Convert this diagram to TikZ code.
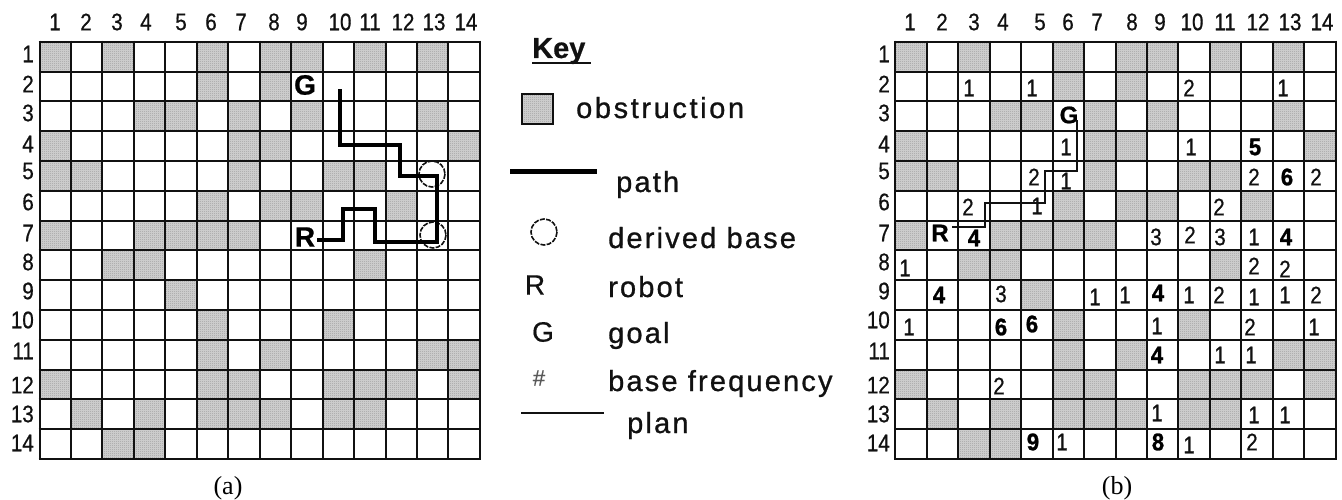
\documentclass[tikz,border=0pt]{standalone}
\usepackage{fontspec}
\usetikzlibrary{patterns}
\setmainfont{Liberation Sans}
\newfontfamily\serifcap{Liberation Serif}
\newfontfamily\keyfont[LetterSpace=7.5,FakeBold=0.9]{Liberation Sans}
\newfontfamily\keywide[LetterSpace=9,FakeBold=0.9]{Liberation Sans}
\newfontfamily\keyhead[FakeBold=0.6]{Liberation Sans Bold}
\newfontfamily\digfont[FakeStretch=0.86,FakeBold=0.6]{Liberation Sans}
\newfontfamily\digbold[FakeStretch=0.92,FakeBold=1.2]{Liberation Sans Bold}
\newfontfamily\symfont[FakeBold=0.6]{Liberation Sans}
\newfontfamily\letfont[FakeBold=0.8]{Liberation Sans Bold}
\newcommand{\px}[1]{\fontsize{#1}{#1}\selectfont}
\definecolor{obst}{HTML}{CCCCCC}
\definecolor{obstdot}{HTML}{8C8C8C}
\definecolor{ink}{HTML}{111111}
\pgfdeclarepatternformonly{obstdots}{\pgfqpoint{0pt}{0pt}}{\pgfqpoint{2pt}{2pt}}{\pgfqpoint{2pt}{2pt}}{%
  \pgfpathrectangle{\pgfqpoint{0pt}{0pt}}{\pgfqpoint{1pt}{1pt}}\pgfusepath{fill}}
\tikzset{
  axislabel/.style={inner sep=0pt,text=ink,font=\px{24}\digfont},
  num/.style={inner sep=0pt,text=ink,font=\px{24}\digfont},
  boldnum/.style={inner sep=0pt,text=black,font=\px{24}\digbold},
  letter/.style={inner sep=0pt,text=black,font=\px{28}\letfont},
  smallletter/.style={inner sep=0pt,text=black,font=\px{24}\letfont},
  keylabel/.style={inner sep=0pt,anchor=base west,text=ink,font=\px{29}\keyfont},
  keysym/.style={inner sep=0pt,text=ink,font=\px{28}\symfont},
  caption/.style={inner sep=0pt,text=black,font=\px{26}\serifcap},
  gridline/.style={draw=ink,line width=2.4pt},
  obstcell/.style={fill=obst,draw=none},
  obstdotted/.style={pattern=obstdots,pattern color=obstdot,draw=none},
  baseCircle/.style={draw=ink,line width=1.6pt,dash pattern=on 5pt off 1.3pt},
  pathline/.style={draw=black,line width=4.5pt,line join=miter},
  planline/.style={draw=ink,line width=2pt,line join=miter}
}
\begin{document}
\begin{tikzpicture}[x=1pt,y=-1pt]
\useasboundingbox (0,0) rectangle (1342,500);
\def\cw{31.46}
\def\ch{29.8}
\def\gy{41.7}
% ----- both grids
\foreach \gx/\gid in {39.5/a,895.3/b}{
  \foreach \r/\cols in {1/{1,3,6,8,9,11,13},2/{6,8},3/{4,5,7,9,13},4/{1,7,8,14},5/{1,2,7,10,11},
    6/{6,8,9,12},7/{1,4,5,6,7},8/{3,4,11},9/{5},10/{6,10},11/{6,8,13,14},
    12/{1,6,7,10,11,12,14},13/{2,4,6,7,8,10,11},14/{3,4}}{
    \foreach \c in \cols{
      \path[obstcell] ({\gx+(\c-1)*\cw},{\gy+(\r-1)*\ch}) rectangle ++(\cw,\ch);
      \path[obstdotted] ({\gx+(\c-1)*\cw},{\gy+(\r-1)*\ch}) rectangle ++(\cw,\ch);
    }
  }
}
% ----- frequencies under the grid lines of (b)
\foreach \x/\y/\t [count=\i] in {969/88/1,1032/88/1,1189/88/2,1283/88/1,
  1066/147/1,1191/147/1,1034/177/2,1066/181/1,1254/177/2,1316/177/2,
  968/207/2,1037/206/1,1219/207/2,1156/237/3,1190/235/2,1220/237/3,1254/237/1,
  905/268/1,1254/266/2,1285/269/2,
  1001/294/3,1095/297/1,1125/295/1,1189/295/1,1219/295/2,1254/297/1,1285/295/1,1316/295/2,
  909/327/1,1157/326/1,1250/327/2,1314/327/1,
  1220/355/1,1251/355/1,999/386/2,1157/413/1,1254/415/1,1285/415/1,
  1062/442/1,1189/445/1,1252/442/2}{
  \node[num] (f\i) at (\x,\y) {\t};
}
\foreach \x/\y/\t [count=\i] in {1255/147/5,1287/177/6,974/238/4,1286/237/4,
  939/295/4,1158/293/4,1001/327/6,1032/324/6,1157/355/4,1033/442/9,1158/442/8}{
  \node[boldnum] (h\i) at (\x,\y) {\t};
}
% ----- grid lines, snapped to whole pixels so that they all look alike
\foreach \gx in {39.5,895.3}{
  \foreach \i in {0,...,14}{
    \pgfmathsetmacro{\lx}{round(\gx+\i*\cw)}
    \pgfmathsetmacro{\ly}{round(\gy+\i*\ch)}
    \draw[gridline] (\lx,{\gy-1}) -- (\lx,{\gy+14*\ch+1});
    \draw[gridline] ({\gx-1},\ly) -- ({\gx+14*\cw+1},\ly);
  }
}
% ----- axis labels
\foreach \x [count=\i] in {55,86,117,146,181,211,241,274,302,340,370,403,434,466}{
  \node[axislabel] (ca\i) at (\x,22) {\i};
}
\foreach \x [count=\i] in {910,942,974,1003,1040,1068,1097,1132,1160,1192,1225,1258,1290,1322}{
  \node[axislabel] (cb\i) at (\x,22) {\i};
}
\foreach \y [count=\i] in {54,84,113,144,171,202,233,262,291,320,351,385,414,443}{
  \node[axislabel,anchor=east] (ra\i) at (34,\y) {\i};
  \node[axislabel,anchor=east] (rb\i) at (890,\y) {\i};
}
% ----- panel (a)
\node[letter] (aG) at (305,85) {G};
\node[letter] (aR) at (305,237) {R};
\draw[baseCircle] (432,174) circle (13);
\draw[baseCircle] (433,235) circle (13);
\draw[pathline] (317,240) -- (343,240) -- (343,209) -- (375,209) -- (375,242) -- (437,242)
  -- (437,176) -- (400,176) -- (400,145) -- (340,145) -- (340,89);
% ----- panel (b)
\node[smallletter] (bG) at (1069,115) {G};
\node[smallletter] (bR) at (940,233) {R};
\draw[planline] (952,227) -- (985,227) -- (985,203) -- (1045,203) -- (1045,171) -- (1077,171) -- (1077,120);
% ----- key
\node[keylabel,font=\px{29}\keyhead] (keyT) at (532,58) {Key};
\draw[draw=ink,line width=2pt] (532,63) -- (591,63);
\path[fill=obst] (522,94) rectangle (553,124);
\path[obstdotted] (522,94) rectangle (553,124);
\path[draw=ink,line width=2pt] (522,94) rectangle (553,124);
\node[keylabel,font=\px{29}\keywide] (kO) at (576,118) {obstruction};
\draw[draw=black,line width=5pt] (510,172) -- (597,172);
\node[keylabel] (kP) at (616,192) {path};
\draw[baseCircle] (544,232) circle (13);
\node[keylabel] (kD) at (608,248) {derived base};
\node[keysym] (kRs) at (535,285) {R};
\node[keylabel] (kR) at (608,297) {robot};
\node[keysym] (kGs) at (543,332) {G};
\node[keylabel] (kG) at (608,343) {goal};
\node[keysym,font=\px{22}\symfont,text=black!65] (kHs) at (539,378) {\#};
\node[keylabel] (kB) at (608,391) {base frequency};
\draw[draw=ink,line width=2.5pt] (521,413) -- (604,413);
\node[keylabel] (kL) at (627,433) {plan};
% ----- captions
\node[caption] (capA) at (228,488) {(a)};
\node[caption] (capB) at (1117,488) {(b)};
\end{tikzpicture}
\end{document}
